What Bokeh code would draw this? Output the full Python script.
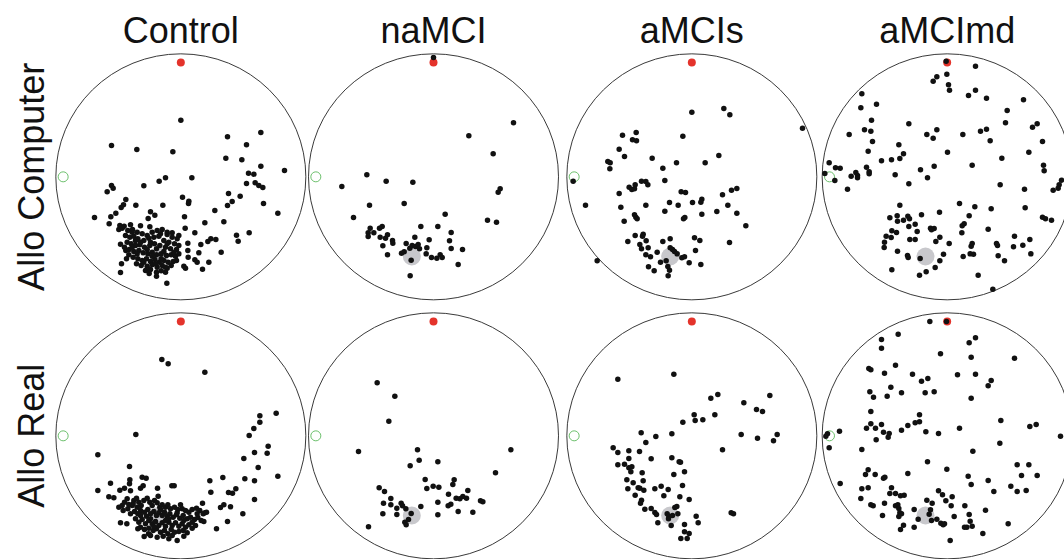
import numpy as np
from bokeh.plotting import figure
from bokeh.models import Range1d, Label
from bokeh.embed import file_html
from bokeh.resources import INLINE

# Groups (columns) and test conditions (rows)
groups = ["Control", "naMCI", "aMCIs", "aMCImd"]
conditions = ["Allo Computer", "Allo Real"]

# Arena coordinates: origin at arena centre, x to the right, y up,
# arena radius = 375 units.
goal = (-65, -239)      # hidden goal location (grey)
cue = (0, 343)          # cue position (red)
start = (-353, 0)       # start position (green ring)

# Final positions of each trial
control_computer = [
    (0, 170), (140, 120), (240, 133), (-208, 94), (-132, 82), (-24, 75), (197, 96), (135, 56),
    (183, 51), (240, 32), (311, 19), (203, 11), (219, 8), (-46, -3), (-65, -13), (33, -3),
    (-208, -26), (-203, -34), (-221, -45), (-111, -27), (197, -20), (223, -18), (234, -26),
    (246, -32), (143, -50), (178, -58), (154, -74), (140, -86), (248, -80), (5, -61), (24, -73),
    (23, -80), (-165, -68), (-172, -84), (-179, -92), (-135, -85), (-54, -85), (-195, -109),
    (-210, -120), (-259, -122), (-91, -105), (-78, -115), (-98, -125), (11, -120), (102, -101),
    (291, -109), (129, -135), (72, -138), (-215, -141), (-183, -146), (-170, -148), (-151, -144),
    (-121, -147), (-93, -150), (13, -154), (205, -168), (167, -175), (172, -193), (42, -168),
    (90, -186), (105, -188), (81, -194), (60, -203), (21, -199), (-6, -176), (-26, -168),
    (-41, -173), (121, -226), (54, -228), (21, -221), (22, -241), (42, -249), (49, -256),
    (84, -256), (65, -277), (9, -268), (14, -274), (-181, -202), (-165, -221), (-178, -261),
    (-181, -287), (-95, -290), (-73, -298), (-42, -319), (-46, -286), (-13, -251),
    (-186, -158), (-176, -154), (-159, -161), (-145, -158), (-131, -166), (-116, -171),
    (-101, -176), (-86, -166), (-71, -161), (-56, -158), (-41, -166), (-26, -181), (-11, -186),
    (-166, -176), (-153, -181), (-141, -178), (-129, -186), (-111, -191), (-96, -184),
    (-81, -181), (-66, -178), (-51, -191), (-36, -196), (-19, -201), (-6, -206), (-161, -196),
    (-149, -201), (-136, -206), (-123, -204), (-109, -211), (-93, -206), (-79, -201),
    (-63, -206), (-46, -211), (-31, -216), (-13, -218), (-169, -211), (-155, -218),
    (-141, -224), (-126, -221), (-113, -228), (-99, -231), (-86, -226), (-73, -234),
    (-59, -231), (-43, -236), (-29, -234), (-16, -238), (-143, -241), (-129, -246),
    (-116, -251), (-103, -246), (-91, -254), (-78, -248), (-65, -256), (-51, -251),
    (-38, -256), (-23, -254), (-133, -261), (-119, -266), (-101, -268), (-86, -264),
    (-71, -271), (-56, -266), (-41, -274), (-29, -266), (-106, -281), (-91, -278),
    (-73, -286), (-59, -282), (-46, -271), (-156, -234), (-163, -246), (-146, -211),
    (-121, -196), (-73, -216), (-59, -246), (-86, -238), (-101, -218), (-136, -191),
    (-21, -226), (-6, -231), (-131, -231), (-51, -224), (-111, -256), (-76, -261),
    (-91, -196), (-41, -201), (-146, -166), (-61, -171),
]

namci_computer = [
    (0, 358), (240, 162), (106, 123), (179, 69), (-200, 6), (-142, -13), (-62, -16), (-275, -29),
    (200, -36), (194, -46), (-192, -85), (-88, -80), (-240, -122), (35, -112), (162, -130),
    (189, -136), (-38, -149), (13, -149), (-190, -154), (-162, -154), (-154, -149), (-196, -168),
    (-179, -168), (-196, -179), (-160, -181), (-144, -184), (-138, -174), (-123, -191),
    (-122, -199), (-56, -181), (-13, -189), (53, -167), (48, -192), (-152, -207), (-82, -200),
    (-71, -214), (-64, -206), (-54, -209), (-46, -203), (-42, -216), (-20, -213), (53, -215),
    (87, -218), (-138, -234), (-96, -229), (-88, -225), (-22, -231), (-6, -242), (10, -244),
    (20, -234), (26, -242), (-67, -250), (74, -263), (-70, -297),
]

amcis_computer = [
    (0, 194), (96, 205), (114, 186), (332, 146), (-208, 125), (-167, 133), (-178, 111),
    (-166, 108), (-27, 122), (-218, 83), (-202, 61), (-119, 56), (81, 64), (-252, 46),
    (-245, 42), (-246, 24), (-46, 42), (40, 42), (-87, 26), (-356, -13), (-151, -13),
    (-138, -14), (-132, -24), (-170, -24), (-188, -31), (-180, -38), (-172, -36), (-81, -11),
    (-218, -50), (-32, -45), (-19, -47), (92, -54), (119, -40), (135, -35), (30, -67),
    (27, -76), (2, -77), (-67, -77), (-319, -85), (-213, -91), (-138, -85), (-41, -85),
    (108, -85), (-81, -103), (75, -104), (135, -109), (30, -112), (-172, -114), (-168, -121),
    (-164, -126), (-203, -133), (-21, -122), (-25, -126), (162, -147), (-146, -172),
    (-148, -178), (-170, -176), (-192, -194), (-156, -203), (-137, -192), (-87, -194),
    (-65, -186), (8, -183), (24, -191), (113, -197), (-151, -216), (-131, -213), (-104, -226),
    (-65, -213), (-58, -218), (-52, -224), (-44, -231), (11, -221), (-138, -234), (-124, -240),
    (-77, -252), (-94, -256), (-30, -243), (-22, -240), (-8, -258), (27, -263), (-72, -269),
    (-67, -280), (-130, -270), (-113, -282), (-71, -297), (-284, -252),
]

amcimd_computer = [
    (-3, 347), (85, 332), (-31, 300), (-42, 287), (-1, 308), (4, 276), (7, 260), (85, 260),
    (64, 244), (118, 236), (229, 231), (-256, 249), (-259, 207), (-212, 218), (180, 199),
    (175, 162), (-227, 170), (-115, 159), (256, 149), (270, 159), (-248, 141), (-229, 137),
    (-294, 127), (-61, 127), (-31, 141), (-42, 116), (47, 127), (100, 137), (118, 143),
    (129, 108), (286, 106), (-224, 106), (-145, 96), (-237, 77), (-131, 69), (-142, 55),
    (-167, 51), (-197, 48), (1, 74), (164, 56), (245, 74), (-354, 42), (-335, 27), (-321, 26),
    (-242, 29), (-234, 15), (-234, 9), (-274, 13), (-269, 4), (-269, -3), (-288, 2), (-367, 10),
    (-337, -11), (-156, 6), (-80, 21), (-39, 32), (75, 35), (-59, -3), (289, 35), (291, 18),
    (-115, -21), (-299, -37), (159, -24), (232, -37), (343, -10), (336, -24), (333, -34),
    (318, -40), (-142, -85), (37, -80), (83, -90), (132, -96), (234, -93), (-172, -123),
    (-150, -117), (-149, -133), (-131, -130), (-118, -118), (-113, -126), (-77, -114),
    (-23, -106), (-96, -142), (-115, -149), (66, -117), (51, -141), (45, -147), (286, -121),
    (295, -126), (313, -130), (-166, -162), (-152, -167), (-90, -164), (-50, -154), (-39, -155),
    (-47, -159), (44, -168), (123, -157), (-183, -178), (-168, -182), (-112, -188), (-96, -188),
    (-22, -181), (-34, -194), (-188, -196), (-189, -212), (6, -200), (75, -200), (72, -208),
    (148, -200), (151, -206), (202, -178), (199, -210), (227, -205), (248, -188), (-149, -223),
    (-119, -236), (-117, -242), (-11, -232), (69, -231), (79, -232), (48, -239), (153, -237),
    (251, -231), (172, -252), (-81, -245), (-22, -252), (-166, -279), (-36, -272), (-63, -285),
    (-83, -295), (93, -295), (137, -337),
]

control_real = [
    (-57, 229), (-38, 216), (72, 191), (286, 68), (237, 60), (237, 41), (219, 22), (205, 1),
    (-135, 4), (262, -31), (259, -52), (221, -50), (189, -68), (-249, -57), (232, -95),
    (-154, -92), (291, -121), (192, -129), (221, -135), (126, -125), (87, -135), (90, -169),
    (143, -170), (155, -172), (165, -159), (221, -191), (-249, -164), (-211, -142), (-216, -183),
    (-201, -186), (-183, -163), (-169, -157), (-154, -144), (-153, -132), (-151, -165),
    (-116, -124), (-104, -127), (-121, -157), (-113, -150), (-70, -157), (-27, -150),
    (-20, -150), (-68, -181), (65, -202), (129, -207), (119, -215), (149, -213), (186, -234),
    (140, -257), (107, -279), (-181, -261), (-162, -264), (72, -231), (69, -257), (-11, -314),
    (9, -301), (-110, -302), (-97, -294),
    (-186, -214), (-176, -209), (-169, -199), (-161, -189), (-173, -224), (-159, -219),
    (-146, -209), (-141, -194), (-133, -187), (-126, -199), (-119, -209), (-111, -194),
    (-101, -187), (-93, -199), (-86, -209), (-79, -194), (-71, -201), (-63, -214), (-56, -207),
    (-46, -214), (-39, -207), (-31, -219), (-19, -214), (-9, -221), (4, -219), (14, -224),
    (24, -229), (34, -221), (47, -217), (57, -224), (67, -234), (77, -229), (-151, -234),
    (-139, -227), (-129, -234), (-121, -224), (-109, -229), (-99, -221), (-91, -234),
    (-81, -227), (-73, -239), (-66, -231), (-56, -239), (-49, -229), (-41, -241), (-33, -234),
    (-23, -244), (-13, -237), (-3, -247), (7, -239), (19, -249), (29, -244), (41, -251),
    (51, -245), (61, -254), (-136, -249), (-126, -259), (-116, -251), (-106, -264), (-96, -254),
    (-86, -264), (-76, -257), (-66, -269), (-56, -261), (-46, -271), (-36, -259), (-26, -269),
    (-16, -261), (-6, -271), (4, -264), (14, -274), (24, -267), (34, -277), (44, -269),
    (-121, -274), (-109, -281), (-96, -277), (-83, -284), (-73, -279), (-61, -289), (-49, -284),
    (-39, -294), (-29, -281), (-19, -289), (-6, -287), (7, -284), (19, -291), (-91, -299),
    (-71, -304), (-53, -301), (-36, -309), (-131, -214), (-103, -241), (-61, -221), (-36, -249),
    (-11, -231), (9, -254), (-91, -249), (-143, -204), (-81, -272), (-26, -299), (34, -259),
    (49, -234), (-121, -239), (-46, -254), (-1, -207), (-156, -206), (-129, -279),
]

namci_real = [
    (-169, 159), (-116, 119), (-134, 44), (-225, -47), (-48, -42), (-43, -73), (13, -78),
    (-70, -90), (232, -42), (186, -111), (-25, -131), (-20, -158), (-1, -151), (16, -154),
    (62, -132), (58, -146), (103, -164), (-163, -156), (-147, -167), (45, -175), (68, -187),
    (79, -189), (88, -182), (99, -187), (141, -195), (148, -198), (13, -199), (52, -205),
    (44, -210), (74, -227), (118, -229), (13, -237), (-128, -188), (-150, -202), (-128, -207),
    (-97, -202), (-93, -210), (-110, -217), (-83, -219), (-38, -212), (-152, -234), (-110, -236),
    (-67, -233), (-75, -251), (-86, -259), (-82, -267), (-195, -273),
]

amcis_real = [
    (-222, 170), (-54, 185), (234, 121), (78, 124), (57, 113), (156, 99), (194, 79), (212, 73),
    (7, 63), (69, 63), (10, 46), (33, 48), (-27, 41), (-152, 9), (-108, -2), (-60, 6), (148, 4),
    (256, 4), (197, -7), (245, -15), (-138, -20), (-236, -36), (-222, -50), (-189, -45),
    (-157, -47), (92, -42), (-189, -68), (-122, -69), (-60, -66), (-38, -78), (-34, -79),
    (-222, -87), (-202, -85), (-189, -96), (-180, -93), (-183, -108), (-149, -111), (-54, -116),
    (-22, -108), (-195, -132), (-176, -141), (-146, -135), (-192, -159), (-161, -156),
    (-156, -157), (-144, -163), (-111, -159), (-92, -151), (-71, -161), (-28, -149),
    (-170, -178), (-84, -180), (-36, -183), (-8, -191), (-151, -193), (-154, -202), (-141, -220),
    (-122, -218), (-111, -230), (-106, -236), (-51, -215), (-45, -212), (-74, -234), (-69, -241),
    (-58, -239), (-42, -234), (-70, -249), (-62, -269), (-102, -261), (13, -241), (19, -261),
    (-22, -266), (-22, -288), (-8, -293), (-33, -308), (-14, -308), (118, -231), (125, -234),
]

amcimd_real = [
    (-52, 343), (-2, 343), (-147, 305), (-197, 289), (-197, 263), (85, 294), (66, 279),
    (-20, 246), (72, 236), (202, 233), (-235, 202), (-229, 198), (-155, 212), (-188, 188),
    (-104, 185), (-77, 164), (-58, 172), (31, 183), (85, 185), (132, 166), (123, 150),
    (-169, 146), (-232, 132), (-221, 116), (-180, 119), (-137, 129), (-66, 129), (-39, 132),
    (72, 113), (-229, 73), (-83, 63), (-229, 36), (-242, 23), (-215, 23), (-197, 34), (-191, 11),
    (-174, 7), (-177, -4), (-213, -12), (-137, 17), (-118, 31), (-96, 39), (-83, 42), (-64, 12),
    (-26, 7), (37, 23), (161, 46), (248, 28), (267, 34), (340, -1), (158, -22), (-323, 14),
    (-359, 6), (-364, -1), (-354, -36), (-256, -41), (77, -46), (-59, -78), (-1, -100),
    (210, -87), (245, -87), (-237, -102), (-245, -116), (-216, -116), (-191, -127), (-187, -124),
    (-118, -113), (63, -121), (72, -146), (123, -134), (223, -119), (270, -119), (-321, -143),
    (-256, -159), (-237, -156), (-167, -156), (-172, -173), (-155, -173), (-140, -180),
    (-129, -178), (-26, -165), (-14, -177), (15, -183), (-4, -195), (140, -167), (191, -151),
    (210, -167), (237, -164), (-259, -188), (-229, -207), (-222, -210), (-188, -202),
    (-155, -210), (-148, -207), (-145, -218), (-142, -231), (-137, -234), (-145, -242),
    (-61, -193), (-45, -202), (-99, -221), (-50, -222), (-54, -235), (-87, -250), (-47, -254),
    (-31, -250), (12, -210), (53, -210), (66, -236), (115, -223), (21, -242), (-19, -262),
    (-12, -267), (-8, -264), (69, -256), (52, -274), (59, -274), (75, -271), (183, -264),
    (-194, -239), (-131, -268), (-140, -281), (-99, -274), (107, -293), (9, -314),
]

trials = [
    [control_computer, namci_computer, amcis_computer, amcimd_computer],
    [control_real, namci_real, amcis_real, amcimd_real],
]

# Canvas in arena units (3 units per screen pixel)
W, H = 1064, 559
SCALE = 3
col_x = [541, 1299, 2074, 2840]
row_y = [1148, 371]
arena_w, arena_h = 750, 738

p = figure(width=W, height=H, x_range=Range1d(0, W * SCALE), y_range=Range1d(0, H * SCALE),
           output_backend="svg", toolbar_location=None,
           x_axis_location=None, y_axis_location=None, min_border=0,
           outline_line_color=None, background_fill_color="white",
           border_fill_color="white")
p.xgrid.visible = False
p.ygrid.visible = False

for r in range(2):
    for c in range(4):
        cx, cy = col_x[c], row_y[r]
        p.ellipse(x=[cx], y=[cy], width=arena_w, height=arena_h,
                  fill_color=None, line_color="#3a3a3a", line_width=1)
        p.scatter(x=[cx + goal[0]], y=[cy + goal[1]], size=18,
                  fill_color="#c8c8cc", line_color=None)
        p.scatter(x=[cx + cue[0]], y=[cy + cue[1]], size=8,
                  fill_color="#e4332b", line_color=None)
        p.scatter(x=[cx + start[0]], y=[cy + start[1]], size=10,
                  fill_color=None, line_color="#6cc06c", line_width=1)
        pts = np.array(trials[r][c], dtype=float)
        p.scatter(x=cx + pts[:, 0], y=cy + pts[:, 1], size=5.5,
                  fill_color="#111111", line_color=None)

# Column headers
for c, name in enumerate(groups):
    p.add_layout(Label(x=col_x[c], y=(H - 30) * SCALE, text=name, text_align="center",
                       text_baseline="alphabetic", text_font="Liberation Sans",
                       text_font_size="36px", text_color="#111111"))

# Row headers
for r, name in enumerate(conditions):
    p.add_layout(Label(x=31 * SCALE, y=row_y[r], text=name, angle=np.pi / 2,
                       text_align="center", text_baseline="alphabetic",
                       text_font="Liberation Sans", text_font_size="36px",
                       text_color="#111111"))

open("out.html", "w").write(file_html(p, INLINE))
